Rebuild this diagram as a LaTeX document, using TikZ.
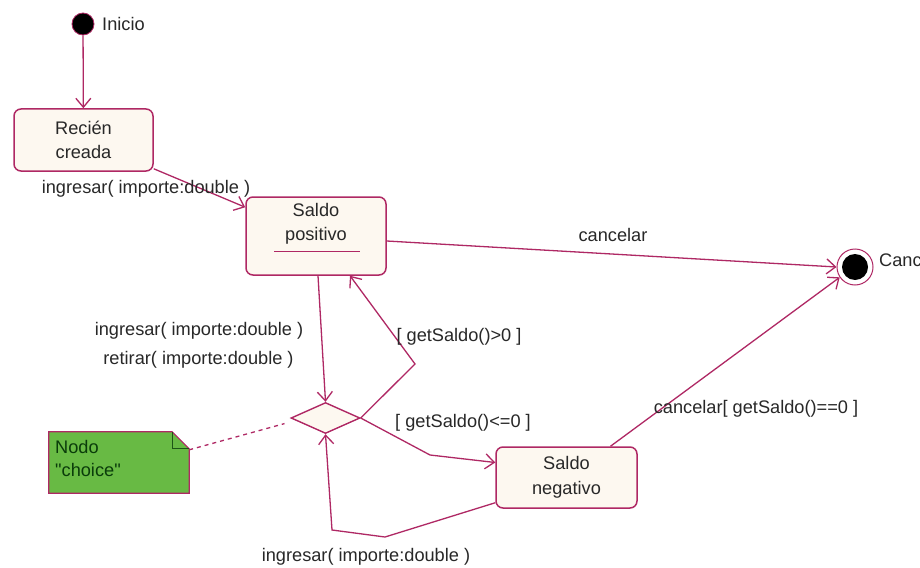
\documentclass[tikz,border=0pt]{standalone}
\usepackage{fontspec}
\setmainfont{Liberation Sans}[Ligatures=TeXOff]
\usetikzlibrary{arrows.meta,shapes.geometric,calc}
\definecolor{edge}{RGB}{175,40,100}
\definecolor{cream}{RGB}{253,248,240}
\definecolor{notegreen}{RGB}{104,186,68}
\definecolor{notetext}{RGB}{10,60,10}
\definecolor{txt}{RGB}{40,40,40}
\newcommand\lab{\fontsize{18.2}{24.5}\selectfont}
\tikzset{
  statebox/.style={draw=edge, line width=1.5pt, fill=cream, rounded corners=7pt, inner sep=0pt, font=\lab, text=txt, align=center},
  tr/.style={draw=edge, line width=1.3pt, -{Straight Barb[length=9pt,width=15pt,line width=1.3pt]}},
  lbl/.style={font=\lab, text=txt, inner sep=0pt},
}
\begin{document}
\begin{tikzpicture}[x=1pt,y=-1pt]
\useasboundingbox[fill=white] (0,0) rectangle (920,567);

% nodes
\node[circle, fill=black, draw=edge, line width=0.8pt, minimum size=22pt, inner sep=0pt] (init) at (83,24) {};
\node[lbl, anchor=west] (initlbl) at (102,24) {Inicio};

\node[statebox, minimum width=139pt, minimum height=62pt] (rc) at (83.5,140) {Recién\\creada};

\node[statebox, minimum width=140pt, minimum height=78pt] (sp) at (316,236) {};
\node[lbl, align=center] (sptext) at (316,224) {Saldo\\positivo};
\draw[edge, line width=1.5pt] (274,251.5) -- (360,251.5);

\node[statebox, minimum width=141pt, minimum height=61pt] (sn) at (566.5,477.5) {Saldo\\negativo};

\node[diamond, draw=edge, line width=1.4pt, fill=cream, minimum width=69pt, minimum height=31pt, inner sep=0pt] (ch) at (325.5,418) {};

\node[circle, draw=edge, line width=1pt, fill=white, minimum size=36pt, inner sep=0pt] (fin) at (855,267) {};
\node[circle, fill=black, minimum size=26pt, inner sep=0pt] (finin) at (855,267) {};
\node[lbl, anchor=west] (finlbl) at (879,260) {Canc};

% note
\node[minimum width=140pt, minimum height=61pt, inner sep=0pt] (note) at (119,462.5) {};
\filldraw[fill=notegreen, draw=edge, line width=1.2pt]
  (note.north west) -- ($(note.north east)+(-17,0)$) -- ($(note.north east)+(0,17)$)
  -- (note.south east) -- (note.south west) -- cycle;
\draw[notetext!80!notegreen, line width=1pt] ($(note.north east)+(-17,0)$) -- ($(note.north east)+(-17,17)$) -- ($(note.north east)+(0,17)$);
\node[lbl, anchor=west, text=notetext] (nt1) at (55,447) {Nodo};
\node[lbl, anchor=west, text=notetext] (nt2) at (55,470) {"choice"};

% transitions
\draw[tr] (init) -- (rc);
\draw[tr] ($(rc.south east)+(0,-3)$) -- ($(sp.north west)+(0,11)$);
\draw[tr] ($(sp.east)+(0,5)$) -- (fin.west);
\draw[tr] ($(sp.south)+(2,0)$) -- (ch.north);
\draw[tr] (ch.east) -- (415,364) -- ($(sp.south)+(34,0)$);
\draw[tr] (ch.east) -- (430,455) -- ($(sn.west)+(0,-15)$);
\draw[tr] ($(sn.south west)+(0,-6)$) -- (385,537) -- (332,530) -- (ch.south);
\draw[tr] ($(sn.north)+(44,0)$) -- (fin.214);
\draw[edge, dashed, dash pattern=on 4pt off 4pt, line width=1.3pt, shorten >=6pt] ($(note.north east)+(0,18)$) -- ($(ch.west)+(0,4)$);

% labels
\node[lbl] (l1) at (146,189) {ingresar( importe:double )};
\node[lbl] (l2) at (613,235) {cancelar};
\node[lbl] (l3) at (199,331) {ingresar( importe:double )};
\node[lbl] (l4) at (198.5,360) {retirar( importe:double )};
\node[lbl] (l5) at (459,337) {[ getSaldo()>0 ]};
\node[lbl] (l6) at (463,423) {[ getSaldo()<=0 ]};
\node[lbl] (l7) at (366,557) {ingresar( importe:double )};
\node[lbl] (l8) at (756,409) {cancelar[ getSaldo()==0 ]};
\end{tikzpicture}
\end{document}
